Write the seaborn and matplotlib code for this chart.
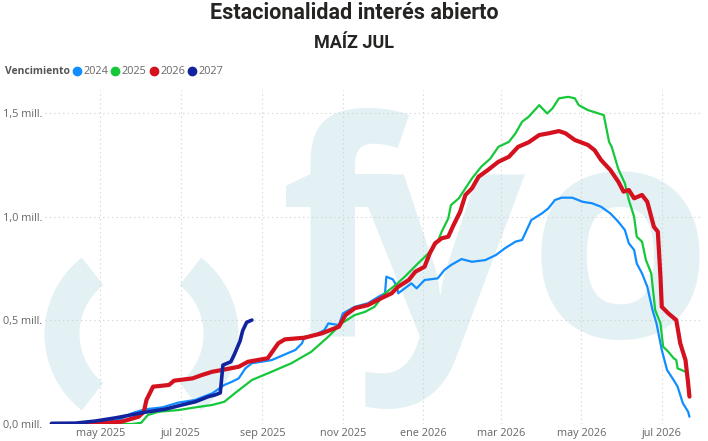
import pandas as pd
import numpy as np
import matplotlib
matplotlib.use("Agg")
import matplotlib.pyplot as plt
from matplotlib.patches import Wedge
from matplotlib.lines import Line2D
import seaborn as sns

# --- datos (interés abierto, millones de contratos) ---
fechas_2024 = ["2025-03-25", "2025-04-20", "2025-05-05", "2025-05-15", "2025-05-25", "2025-06-04",
               "2025-06-17", "2025-06-29", "2025-07-12", "2025-07-25", "2025-08-03", "2025-08-09",
               "2025-08-14", "2025-08-19", "2025-08-24", "2025-09-08", "2025-09-26", "2025-10-01",
               "2025-10-03", "2025-10-11", "2025-10-18", "2025-10-21", "2025-10-29", "2025-11-01",
               "2025-11-10", "2025-11-20", "2025-11-28", "2025-12-03", "2025-12-04", "2025-12-09",
               "2025-12-12", "2025-12-13", "2025-12-18", "2025-12-23", "2025-12-27", "2026-01-02",
               "2026-01-12", "2026-01-17", "2026-01-22", "2026-01-30", "2026-02-07", "2026-02-17",
               "2026-02-25", "2026-03-04", "2026-03-12", "2026-03-17", "2026-03-24", "2026-04-01",
               "2026-04-06", "2026-04-11", "2026-04-16", "2026-04-24", "2026-05-02", "2026-05-09",
               "2026-05-16", "2026-05-23", "2026-05-29", "2026-06-03", "2026-06-06", "2026-06-10",
               "2026-06-12", "2026-06-16", "2026-06-20", "2026-06-24", "2026-06-27", "2026-07-01",
               "2026-07-05", "2026-07-10", "2026-07-13", "2026-07-17", "2026-07-21", "2026-07-22"]
valores_2024 = [0.0, 0.003, 0.010, 0.019, 0.052, 0.071,
                0.080, 0.103, 0.116, 0.148, 0.188, 0.204,
                0.220, 0.268, 0.293, 0.308, 0.357, 0.389,
                0.421, 0.429, 0.453, 0.485, 0.477, 0.533,
                0.565, 0.582, 0.613, 0.630, 0.710, 0.697,
                0.662, 0.630, 0.654, 0.678, 0.654, 0.694,
                0.702, 0.742, 0.766, 0.795, 0.782, 0.790,
                0.814, 0.847, 0.879, 0.887, 0.983, 1.015,
                1.040, 1.080, 1.091, 1.091, 1.071, 1.064,
                1.047, 1.015, 0.975, 0.935, 0.871, 0.839,
                0.774, 0.726, 0.662, 0.549, 0.485, 0.357,
                0.260, 0.212, 0.180, 0.100, 0.059, 0.035]

fechas_2025 = ["2025-03-25", "2025-05-25", "2025-06-01", "2025-06-06", "2025-06-14", "2025-06-29",
               "2025-07-12", "2025-07-25", "2025-08-03", "2025-08-11", "2025-08-24", "2025-09-08",
               "2025-09-23", "2025-10-08", "2025-10-21", "2025-10-31", "2025-11-10", "2025-11-18",
               "2025-11-25", "2025-12-03", "2025-12-11", "2025-12-18", "2025-12-28", "2026-01-05",
               "2026-01-12", "2026-01-15", "2026-01-20", "2026-01-22", "2026-01-28", "2026-02-02",
               "2026-02-07", "2026-02-14", "2026-02-21", "2026-02-27", "2026-03-07", "2026-03-12",
               "2026-03-17", "2026-03-22", "2026-03-30", "2026-04-05", "2026-04-09", "2026-04-14",
               "2026-04-21", "2026-04-26", "2026-04-29", "2026-05-06", "2026-05-14", "2026-05-18",
               "2026-05-22", "2026-05-24", "2026-05-29", "2026-06-03", "2026-06-06", "2026-06-10",
               "2026-06-12", "2026-06-16", "2026-06-19", "2026-06-23", "2026-06-26", "2026-06-30",
               "2026-07-02", "2026-07-06", "2026-07-10", "2026-07-12", "2026-07-13", "2026-07-19"]
valores_2025 = [0.0, 0.0, 0.006, 0.043, 0.059, 0.067,
                0.080, 0.092, 0.107, 0.148, 0.212, 0.252,
                0.293, 0.348, 0.421, 0.485, 0.525, 0.541,
                0.565, 0.630, 0.670, 0.710, 0.774, 0.823,
                0.879, 0.927, 0.991, 1.055, 1.088, 1.136,
                1.184, 1.240, 1.280, 1.336, 1.360, 1.401,
                1.457, 1.481, 1.537, 1.497, 1.521, 1.570,
                1.577, 1.570, 1.537, 1.513, 1.497, 1.489,
                1.360, 1.336, 1.229, 1.160, 1.080, 0.999,
                0.903, 0.879, 0.790, 0.726, 0.549, 0.485,
                0.373, 0.348, 0.317, 0.308, 0.268, 0.252]

fechas_2026 = ["2025-03-25", "2025-04-22", "2025-05-17", "2025-05-30", "2025-06-03", "2025-06-05",
               "2025-06-10", "2025-06-22", "2025-06-26", "2025-07-10", "2025-07-17", "2025-07-25",
               "2025-08-01", "2025-08-14", "2025-08-21", "2025-09-05", "2025-09-13", "2025-09-18",
               "2025-10-03", "2025-10-16", "2025-10-29", "2025-11-03", "2025-11-10", "2025-11-20",
               "2025-11-30", "2025-12-08", "2025-12-13", "2025-12-21", "2025-12-26", "2026-01-02",
               "2026-01-06", "2026-01-10", "2026-01-15", "2026-01-20", "2026-01-24", "2026-01-29",
               "2026-02-02", "2026-02-07", "2026-02-12", "2026-02-19", "2026-02-27", "2026-03-07",
               "2026-03-14", "2026-03-22", "2026-03-30", "2026-04-06", "2026-04-14", "2026-04-19",
               "2026-04-26", "2026-05-06", "2026-05-11", "2026-05-16", "2026-05-23", "2026-05-29",
               "2026-06-02", "2026-06-06", "2026-06-10", "2026-06-16", "2026-06-20", "2026-06-25",
               "2026-06-28", "2026-06-30", "2026-07-01", "2026-07-06", "2026-07-12", "2026-07-15",
               "2026-07-19", "2026-07-21", "2026-07-22"]
valores_2026 = [0.0, 0.0, 0.011, 0.035, 0.059, 0.116,
                0.180, 0.188, 0.209, 0.220, 0.236, 0.252,
                0.260, 0.276, 0.300, 0.317, 0.389, 0.408,
                0.416, 0.437, 0.469, 0.525, 0.558, 0.573,
                0.606, 0.630, 0.662, 0.694, 0.734, 0.758,
                0.823, 0.871, 0.895, 0.903, 0.959, 1.023,
                1.104, 1.136, 1.192, 1.224, 1.264, 1.288,
                1.336, 1.358, 1.393, 1.401, 1.412, 1.401,
                1.369, 1.345, 1.320, 1.272, 1.224, 1.168,
                1.120, 1.128, 1.088, 1.104, 1.071, 0.951,
                0.927, 0.710, 0.565, 0.533, 0.501, 0.389,
                0.308, 0.196, 0.132]

fechas_2027 = ["2025-03-25", "2025-04-12", "2025-04-27", "2025-05-13", "2025-05-31", "2025-06-07",
               "2025-06-19", "2025-07-02", "2025-07-12", "2025-07-22", "2025-07-27", "2025-07-31",
               "2025-08-02", "2025-08-08", "2025-08-11", "2025-08-15", "2025-08-17", "2025-08-20",
               "2025-08-24"]
valores_2027 = [0.003, 0.004, 0.014, 0.030, 0.052, 0.060,
                0.071, 0.092, 0.107, 0.132, 0.140, 0.150,
                0.284, 0.300, 0.340, 0.400, 0.450, 0.490,
                0.501]

vencimientos = ["2024", "2025", "2026", "2027"]
colores = {"2024": "#118DFF", "2025": "#14C83A", "2026": "#D4111E", "2027": "#12239E"}
grosores = {"2024": 1.6, "2025": 1.6, "2026": 3.0, "2027": 2.6}

x_ticks = ["2025-05-01", "2025-07-01", "2025-09-01", "2025-11-01",
           "2026-01-01", "2026-03-01", "2026-05-01", "2026-07-01"]
x_labels = ["may 2025", "jul 2025", "sep 2025", "nov 2025",
            "ene 2026", "mar 2026", "may 2026", "jul 2026"]
y_ticks = [0.0, 0.5, 1.0, 1.5]
y_labels = ["0,0 mill.", "0,5 mill.", "1,0 mill.", "1,5 mill."]

frames = []
for v, f, val in zip(vencimientos,
                     [fechas_2024, fechas_2025, fechas_2026, fechas_2027],
                     [valores_2024, valores_2025, valores_2026, valores_2027]):
    frames.append(pd.DataFrame({"fecha": pd.to_datetime(f), "valor": val, "vencimiento": v}))
df = pd.concat(frames, ignore_index=True)

sns.set_theme(style="white")
plt.rcParams["font.family"] = ["Open Sans", "DejaVu Sans"]

W, H = 708, 441
fig = plt.figure(figsize=(W / 100, H / 100), dpi=100)

# marca de agua en coordenadas de píxel
bg = fig.add_axes([0, 0, 1, 1], zorder=0)
bg.set_xlim(0, W)
bg.set_ylim(0, H)
bg.axis("off")
wm = "#E3F1F5"
bg.add_patch(Wedge((141.5, H - 334), 97, 128, 232, width=35, color=wm, lw=0))
bg.add_patch(Wedge((141.5, H - 334), 97, -52, 52, width=35, color=wm, lw=0))
for letra, xc in zip(["f", "y", "o"], [338, 440, 620]):
    bg.text(xc, H - 337, letra, fontsize=215, fontweight="bold", color=wm,
            ha="center", va="baseline", family="Open Sans")

ax = fig.add_axes([45 / W, 17 / H, 655 / W, 334 / H], zorder=1)
ax.patch.set_alpha(0)

sns.lineplot(data=df, x="fecha", y="valor", hue="vencimiento", size="vencimiento",
             hue_order=vencimientos, size_order=vencimientos,
             palette=colores, sizes=grosores, legend=False, ax=ax)

ax.set_xlim(pd.Timestamp("2025-03-20"), pd.Timestamp("2026-07-30"))
ax.set_ylim(0, 1.61)
ax.set_xticks(pd.to_datetime(x_ticks))
ax.set_xticklabels(x_labels)
ax.set_yticks(y_ticks)
ax.set_yticklabels(y_labels)
ax.set_xlabel("")
ax.set_ylabel("")
ax.tick_params(axis="both", length=0, labelsize=7.8, labelcolor="#666666", pad=3)
ax.tick_params(axis="y", pad=2)
ax.grid(True, color="#CFCFCF", linestyle=(0, (1, 3)), linewidth=0.8)
ax.set_axisbelow(True)
for s in ax.spines.values():
    s.set_visible(False)

fig.text(0.5, 1 - 13 / H, "Estacionalidad interés abierto", ha="center", va="center",
         fontsize=15.5, fontweight="bold", color="#252423", family="Roboto")
fig.text(0.5, 1 - 43 / H, "MAÍZ JUL", ha="center", va="center",
         fontsize=13, fontweight="bold", color="#252423", family="Roboto")

fig.text(5 / W, 1 - 72 / H, "Vencimiento", ha="left", va="center",
         fontsize=7.5, fontweight="bold", color="#555555")
handles = [Line2D([], [], marker="o", linestyle="", markersize=6, color=colores[v]) for v in vencimientos]
fig.legend(handles, vencimientos, loc="center left", bbox_to_anchor=(72 / W, 1 - 72 / H),
           ncol=4, frameon=False, fontsize=7.8, labelcolor="#666666",
           handletextpad=0.15, columnspacing=0.2, handlelength=0.9, borderaxespad=0, borderpad=0)

fig.savefig("out.png", dpi=100)
